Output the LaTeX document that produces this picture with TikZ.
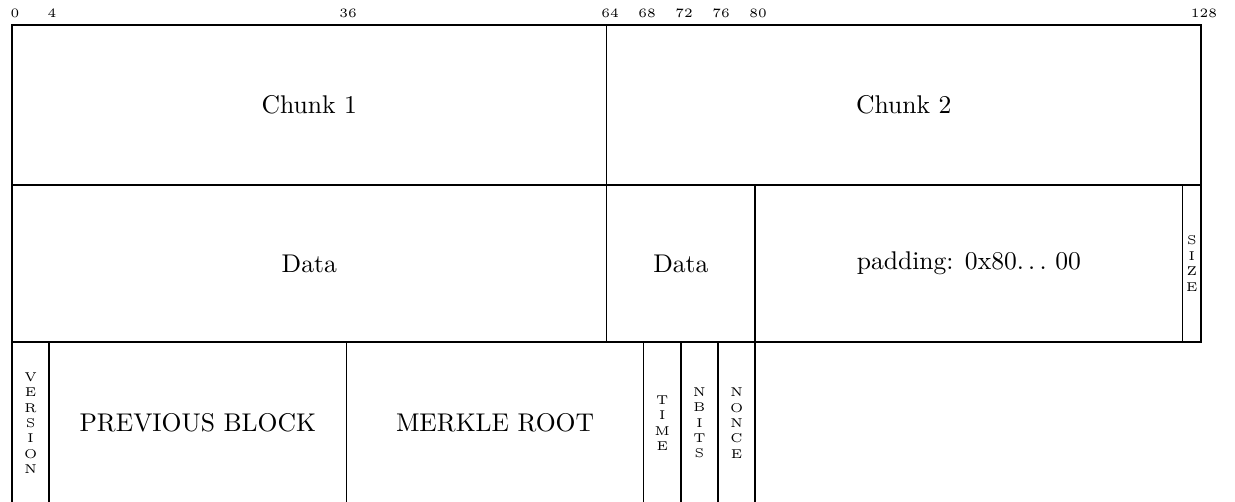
\documentclass[tikz,border=0pt]{standalone}
\begin{document}
\begin{tikzpicture}[x=0.3906pt, y=-0.3906pt,
  fieldline/.style={draw=black, line width=0.6pt},
  fieldtext/.style={inner sep=0pt, align=center, font=\normalsize},
  vtext/.style={inner sep=0pt, align=center, font=\tiny},
  toplabel/.style={inner sep=0pt, font=\tiny}]
\useasboundingbox (0,0) rectangle (1235,501);
\newcommand{\fld}[7]{%
  \draw[fieldline] (#2,#3) rectangle (#4,#5);
  \node[#7] (#1) at ({(#2+#4)/2},{(#3+#5)/2}) {#6};}
% top labels
\node[toplabel] (l0) at (15,13) {0};
\node[toplabel] (l4) at (52,13) {4};
\node[toplabel] (l36) at (348,13) {36};
\node[toplabel] (l64) at (610,13) {64};
\node[toplabel] (l68) at (647,13) {68};
\node[toplabel] (l72) at (684,13) {72};
\node[toplabel] (l76) at (721,13) {76};
\node[toplabel] (l80) at (758,13) {80};
\node[toplabel] (l128) at (1204,13) {128};
% row 1
\fld{chunka}{12}{25}{606.6}{185}{Chunk 1}{fieldtext}
\fld{chunkb}{606.6}{25}{1201.1}{185}{Chunk 2}{fieldtext}
% row 2
\fld{dataa}{12}{185}{606.6}{342}{Data}{fieldtext}
\fld{datab}{606.6}{185}{755.2}{342}{Data}{fieldtext}
\fld{padding}{755.2}{185}{1182.5}{342}{padding: 0x80$\ldots$\ 00}{fieldtext}
\fld{size}{1182.5}{185}{1201.1}{342}{S\\I\\Z\\E}{vtext}
% row 3 (cut off at the bottom)
\fld{version}{12}{342}{49.2}{504}{V\\E\\R\\S\\I\\O\\N}{vtext}
\fld{prev}{49.2}{342}{346.4}{504}{PREVIOUS BLOCK}{fieldtext}
\fld{merkle}{346.4}{342}{643.7}{504}{MERKLE ROOT}{fieldtext}
\fld{time}{643.7}{342}{680.9}{504}{T\\I\\M\\E}{vtext}
\fld{nbits}{680.9}{342}{718.0}{504}{N\\B\\I\\T\\S}{vtext}
\fld{nonce}{718.0}{342}{755.2}{504}{N\\O\\N\\C\\E}{vtext}
\end{tikzpicture}
\end{document}
